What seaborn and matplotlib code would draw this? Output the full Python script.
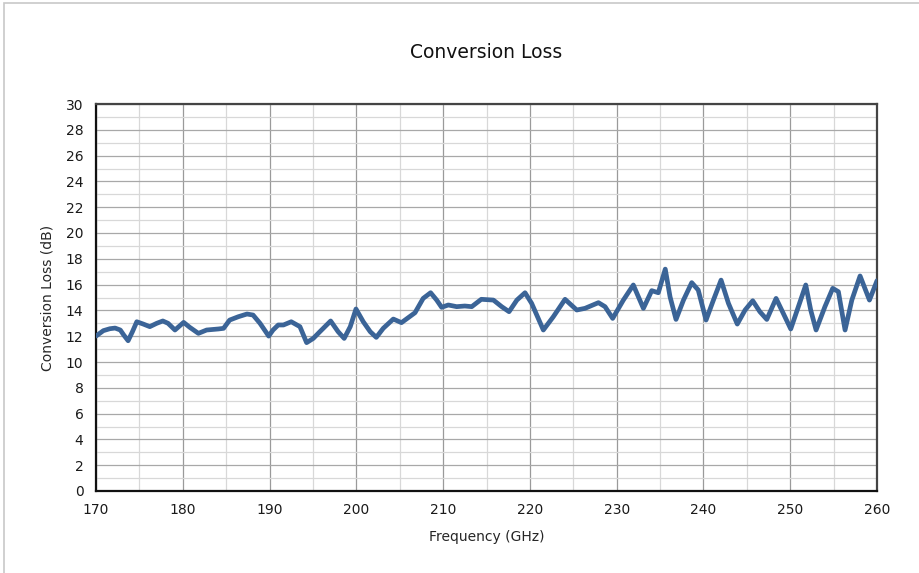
import numpy as np
import pandas as pd
import matplotlib
matplotlib.use('Agg')
import matplotlib.pyplot as plt
from matplotlib.patches import Rectangle
from matplotlib.ticker import MultipleLocator
import seaborn as sns

# Values
freq_ghz = [170.0, 170.85, 171.6, 172.2, 172.8, 173.2, 173.7, 174.2, 174.7, 175.45,
            176.2, 177.0, 177.7, 178.3, 179.1, 180.1, 180.8, 181.8, 182.75, 184.1,
            184.7, 185.4, 186.4, 187.4, 188.1, 188.9, 189.9, 190.4, 191.0, 191.6,
            192.5, 193.5, 194.27, 195.04, 195.8, 197.04, 197.9, 198.6, 199.3, 199.96,
            200.8, 201.6, 202.3, 203.1, 204.26, 205.2, 206.76, 207.7, 208.56, 209.26,
            209.83, 210.6, 211.56, 212.5, 213.3, 214.4, 215.8, 216.75, 217.6, 218.5,
            219.44, 220.2, 221.55, 222.7, 224.05, 225.4, 226.35, 227.9, 228.66, 229.54,
            230.77, 231.92, 232.5, 233.08, 234.04, 234.8, 235.6, 236.15, 236.84, 237.7,
            238.65, 239.4, 240.3, 241.15, 242.03, 242.88, 243.9, 244.8, 245.68, 246.5,
            247.3, 248.37, 249.2, 250.06, 250.94, 251.79, 252.36, 252.98, 254.0, 254.9,
            255.55, 256.32, 257.1, 258.05, 259.13, 260.0]
loss_db = [12.01, 12.43, 12.58, 12.63, 12.48, 12.09, 11.65, 12.35, 13.12, 12.94,
           12.74, 13.0, 13.18, 13.0, 12.48, 13.07, 12.69, 12.22, 12.48, 12.56,
           12.61, 13.25, 13.51, 13.72, 13.64, 13.0, 12.01, 12.48, 12.87, 12.87,
           13.12, 12.74, 11.5, 11.83, 12.35, 13.18, 12.35, 11.83, 12.74, 14.11,
           13.12, 12.35, 11.91, 12.61, 13.33, 13.05, 13.82, 14.93, 15.37, 14.8,
           14.24, 14.42, 14.29, 14.34, 14.29, 14.86, 14.8, 14.29, 13.9, 14.8,
           15.37, 14.55, 12.48, 13.51, 14.86, 14.03, 14.16, 14.6, 14.29, 13.38,
           14.8, 15.97, 15.06, 14.16, 15.53, 15.37, 17.2, 15.06, 13.3, 14.8,
           16.15, 15.58, 13.25, 14.8, 16.35, 14.55, 12.94, 14.03, 14.75, 13.9,
           13.3, 14.93, 13.77, 12.56, 14.29, 15.97, 14.03, 12.48, 14.29, 15.71,
           15.45, 12.48, 14.8, 16.67, 14.8, 16.3]

df = pd.DataFrame({'Frequency (GHz)': freq_ghz, 'Conversion Loss (dB)': loss_db})

sns.set_style('white')
plt.rcParams['font.family'] = ['DejaVu Sans']

fig = plt.figure(figsize=(9.19, 5.73), dpi=100)
ax = fig.add_axes([96 / 919, 1 - 491 / 573, (877 - 96) / 919, (491 - 104) / 573])

# light frame of the chart area (only top/left visible in the crop)
fig.patches.append(Rectangle((4 / 919, -0.1), 1.2, 1 - 3 / 573 + 0.1,
                             transform=fig.transFigure, fill=False,
                             edgecolor='#c8c8c8', linewidth=1.2))

sns.lineplot(data=df, x='Frequency (GHz)', y='Conversion Loss (dB)', ax=ax,
             color='#3b6497', linewidth=3.4, solid_joinstyle='round',
             solid_capstyle='round', zorder=3)

ax.set_xlim(170, 260)
ax.set_ylim(0, 30)
ax.xaxis.set_major_locator(MultipleLocator(10))
ax.xaxis.set_minor_locator(MultipleLocator(5))
ax.yaxis.set_major_locator(MultipleLocator(2))
ax.yaxis.set_minor_locator(MultipleLocator(1))
ax.grid(which='major', axis='x', color='#9a9a9a', linewidth=0.9)
ax.grid(which='minor', axis='x', color='#d8d8d8', linewidth=0.9)
ax.grid(which='major', axis='y', color='#a8a8a8', linewidth=0.9)
ax.grid(which='minor', axis='y', color='#d8d8d8', linewidth=0.9)
ax.set_axisbelow(True)

ax.tick_params(which='both', length=0, labelsize=10, colors='#1a1a1a', pad=9)
for side in ['left', 'bottom']:
    ax.spines[side].set_color('#111111')
    ax.spines[side].set_linewidth(1.6)
for side in ['top', 'right']:
    ax.spines[side].set_color('#444444')
    ax.spines[side].set_linewidth(1.6)

ax.set_xlabel('Frequency (GHz)', fontsize=10, labelpad=9)
ax.set_ylabel('Conversion Loss (dB)', fontsize=10, labelpad=8)
fig.text((96 + 877) / 2 / 919, 1 - 53 / 573, 'Conversion Loss', ha='center',
         va='center', fontsize=13.5, color='#111111')

fig.savefig('out.png', dpi=100)
